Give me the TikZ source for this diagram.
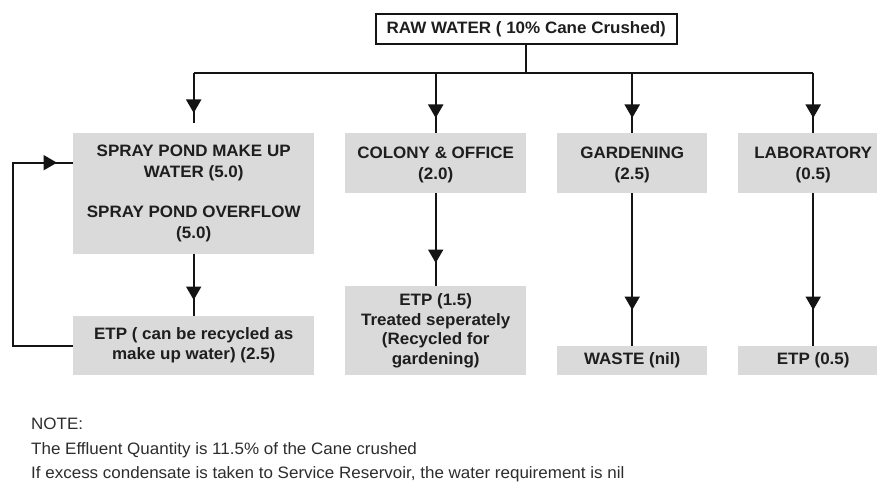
\documentclass[tikz,border=0pt]{standalone}
\usepackage{fontspec}
\setmainfont{Liberation Sans}[FakeStretch=1.03]
\usetikzlibrary{arrows.meta,decorations.markings}
\definecolor{boxgray}{RGB}{218,218,218}
\definecolor{txt}{RGB}{30,30,30}
\definecolor{notetxt}{RGB}{45,45,45}
\definecolor{ln}{RGB}{20,20,20}
\tikzset{
  box/.style={draw=none, fill=boxgray, inner sep=0pt, align=center, anchor=north west,
    text=txt, font=\bfseries\fontsize{16.5}{21}\selectfont},
  boxb/.style={box, font=\bfseries\fontsize{16.5}{20}\selectfont},
  rawbox/.style={draw=ln, line width=1.6pt, fill=white, inner sep=0pt, align=center,
    anchor=north west, text=txt, font=\bfseries\fontsize{16.5}{21}\selectfont},
  link/.style={line width=2pt, draw=ln},
  tipat/.style={postaction={decorate}, decoration={markings,
    mark=at position -#1 with {\arrow{Triangle[length=13.5pt,width=15pt]}}}},
  note/.style={anchor=base west, inner sep=0pt, text=notetxt,
    font=\fontsize{16.5}{20}\selectfont},
}
\begin{document}
\begin{tikzpicture}[x=1pt,y=-1pt]
\clip (0,0) rectangle (877,486);
\fill[white] (0,0) rectangle (877,486);

% nodes
\node[rawbox, minimum width=301pt, minimum height=30pt] (raw) at (375,13) {RAW WATER ( 10\% Cane Crushed)};

\node[box, minimum width=241pt, minimum height=55pt] (makeup) at (73,133) {\rule{0pt}{17pt}SPRAY POND MAKE UP\\WATER (5.0)};
\node[box, minimum width=241pt, minimum height=66pt] (overflow) at (73,188) {\rule{0pt}{18pt}SPRAY POND OVERFLOW\\(5.0)};
\node[box, minimum width=181pt, minimum height=60pt] (colony) at (345,133) {\rule{0pt}{15pt}COLONY \& OFFICE\\(2.0)};
\node[box, minimum width=150pt, minimum height=60pt] (garden) at (557,133) {\rule{0pt}{15pt}GARDENING\\(2.5)};
\node[box, minimum width=150pt, minimum height=60pt] (lab) at (738,133) {\rule{0pt}{15pt}LABORATORY\\(0.5)};

\node[boxb, minimum width=241pt, minimum height=59pt] (etp1) at (73,316) {ETP ( can be recycled as\\make up water) (2.5)};
\node[boxb, minimum width=181pt, minimum height=89pt, font=\bfseries\fontsize{16.5}{19.5}\selectfont] (etp2) at (345,286) {ETP (1.5)\\Treated seperately\\(Recycled for\\gardening)};
\node[boxb, minimum width=150pt, minimum height=29pt] (waste) at (557,346) {WASTE (nil)};
\node[boxb, minimum width=150pt, minimum height=29pt] (etp4) at (738,346) {ETP (0.5)};

% coordinates
\coordinate (bus) at (0,73);
\coordinate (fb) at (13,0);
\coordinate (sprayin) at ([yshift=10pt]makeup.north);

% connectors
\draw[link] (raw.south) -- (raw.south |- bus);
\draw[link] (makeup.north |- bus) -- (lab.north |- bus);
\draw[link, tipat=10pt] (makeup.north |- bus) -- (sprayin);
\draw[link, tipat=15pt] (colony.north |- bus) -- (colony.north);
\draw[link, tipat=15pt] (garden.north |- bus) -- (garden.north);
\draw[link, tipat=15pt] (lab.north |- bus) -- (lab.north);

\draw[link, tipat=16pt] (overflow.south) -- (etp1.north);
\draw[link, tipat=23pt] (colony.south) -- (etp2.north);
\draw[link, tipat=36pt] (garden.south) -- (waste.north);
\draw[link, tipat=36pt] (lab.south) -- (etp4.north);

\draw[link, tipat=16pt] (etp1.west) -- (etp1.west -| fb) -- ([yshift=-2pt]makeup.west -| fb) -- ([yshift=-2pt]makeup.west);

% notes
\node[note] (n1) at (31,429) {NOTE:};
\node[note] (n2) at (31,454) {The Effluent Quantity is 11.5\% of the Cane crushed};
\node[note] (n3) at (31,478) {If excess condensate is taken to Service Reservoir, the water requirement is nil};
\end{tikzpicture}
\end{document}
